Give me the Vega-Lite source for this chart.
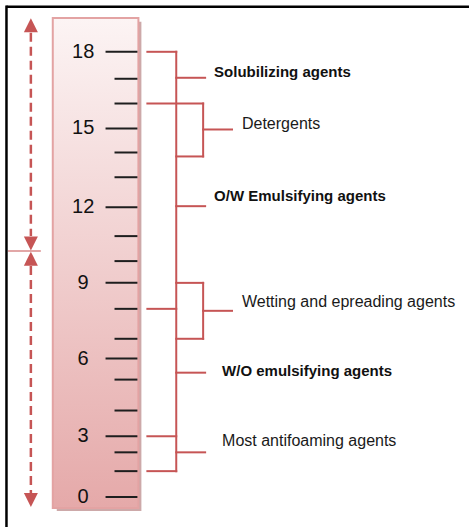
{
  "$schema": "https://vega.github.io/schema/vega-lite/v6.json",
  "width": 471,
  "height": 529,
  "autosize": {"type": "fit", "contains": "padding"},
  "padding": 0,
  "background": "white",
  "config": {"view": {"stroke": null}},
  "datasets": {
    "tube": [{"x": 53, "x2": 139, "hlb": 19.37, "hlb2": -0.443}],
    "shadow": [{"x": 57, "x2": 142, "hlb": 19.21, "hlb2": -0.564}],
    "border": [
      {"x": 6.5, "x2": 471, "hlb": 19.82, "hlb2": 19.82},
      {"x": 6.5, "x2": 6.5, "hlb": 19.87, "hlb2": -1.208}
    ],
    "ticks": [
      {"hlb": 18, "kind": "major", "label": "18"},
      {"hlb": 16.91, "kind": "minor", "label": ""},
      {"hlb": 15.91, "kind": "minor", "label": ""},
      {"hlb": 14.9, "kind": "major", "label": "15"},
      {"hlb": 13.93, "kind": "minor", "label": ""},
      {"hlb": 12.93, "kind": "minor", "label": ""},
      {"hlb": 11.72, "kind": "major", "label": "12"},
      {"hlb": 10.55, "kind": "minor", "label": ""},
      {"hlb": 9.54, "kind": "minor", "label": ""},
      {"hlb": 8.66, "kind": "major", "label": "9"},
      {"hlb": 7.61, "kind": "minor", "label": ""},
      {"hlb": 6.4, "kind": "minor", "label": ""},
      {"hlb": 5.6, "kind": "major", "label": "6"},
      {"hlb": 4.75, "kind": "minor", "label": ""},
      {"hlb": 3.5, "kind": "minor", "label": ""},
      {"hlb": 2.46, "kind": "major", "label": "3"},
      {"hlb": 1.81, "kind": "minor", "label": ""},
      {"hlb": 1.05, "kind": "minor", "label": ""},
      {"hlb": 0, "kind": "major", "label": "0"}
    ],
    "brackets": [
      {"x": 148, "x2": 177, "hlb": 18, "hlb2": 18},
      {"x": 177, "x2": 206, "hlb": 16.95, "hlb2": 16.95},
      {"x": 148, "x2": 204, "hlb": 15.91, "hlb2": 15.91},
      {"x": 177, "x2": 204, "hlb": 13.77, "hlb2": 13.77},
      {"x": 204, "x2": 233, "hlb": 14.86, "hlb2": 14.86},
      {"x": 177, "x2": 206, "hlb": 11.76, "hlb2": 11.76},
      {"x": 177, "x2": 204, "hlb": 8.66, "hlb2": 8.66},
      {"x": 148, "x2": 177, "hlb": 7.61, "hlb2": 7.61},
      {"x": 177, "x2": 204, "hlb": 6.4, "hlb2": 6.4},
      {"x": 204, "x2": 233, "hlb": 7.53, "hlb2": 7.53},
      {"x": 177, "x2": 206, "hlb": 5.03, "hlb2": 5.03},
      {"x": 148, "x2": 177, "hlb": 2.46, "hlb2": 2.46},
      {"x": 177, "x2": 206, "hlb": 1.81, "hlb2": 1.81},
      {"x": 148, "x2": 177, "hlb": 1.05, "hlb2": 1.05},
      {"x": 177, "x2": 177, "hlb": 18, "hlb2": 1.05},
      {"x": 204, "x2": 204, "hlb": 15.91, "hlb2": 13.77},
      {"x": 204, "x2": 204, "hlb": 8.66, "hlb2": 6.4}
    ],
    "dashes": [
      {"hlb": 18.77, "hlb2": 10.55},
      {"hlb": 9.34, "hlb2": 0.16}
    ],
    "separator": [{"x": 8, "x2": 41, "hlb": 9.95}],
    "heads": [
      {"hlb": 19.07, "dir": "up"},
      {"hlb": 10.25, "dir": "down"},
      {"hlb": 9.64, "dir": "up"},
      {"hlb": -0.12, "dir": "down"}
    ],
    "agents": [
      {"x": 215, "hlb": 17.19, "text": "Solubilizing agents", "bold": true},
      {"x": 243, "hlb": 15.1, "text": "Detergents", "bold": false},
      {"x": 215, "hlb": 12.16, "text": "O/W Emulsifying agents", "bold": true},
      {"x": 243, "hlb": 7.89, "text": "Wetting and epreading agents", "bold": false},
      {"x": 223, "hlb": 5.11, "text": "W/O emulsifying agents", "bold": true},
      {"x": 223, "hlb": 2.26, "text": "Most antifoaming agents", "bold": false}
    ]
  },
  "layer": [
    {
      "data": {"name": "shadow"},
      "mark": {"type": "rect", "fill": "#c49a9a", "opacity": 0.85},
      "encoding": {
        "x": {"field": "x", "type": "quantitative", "scale": {"domain": [0, 471], "nice": false, "zero": false}, "axis": null},
        "x2": {"field": "x2"},
        "y": {"field": "hlb", "type": "quantitative", "scale": {"domain": [-1.208, 20.094], "nice": false, "zero": false}, "axis": null},
        "y2": {"field": "hlb2"}
      }
    },
    {
      "data": {"name": "tube"},
      "mark": {
        "type": "rect",
        "fill": {"gradient": "linear", "x1": 0, "y1": 0, "x2": 0, "y2": 1, "stops": [{"offset": 0, "color": "#fcf4f4"}, {"offset": 1, "color": "#e5a9a9"}]},
        "stroke": "#e3a3a3",
        "strokeWidth": 2
      },
      "encoding": {
        "x": {"field": "x", "type": "quantitative", "scale": {"domain": [0, 471], "nice": false, "zero": false}, "axis": null},
        "x2": {"field": "x2"},
        "y": {"field": "hlb", "type": "quantitative", "scale": {"domain": [-1.208, 20.094], "nice": false, "zero": false}, "axis": null},
        "y2": {"field": "hlb2"}
      }
    },
    {
      "data": {"name": "border"},
      "mark": {"type": "rule", "stroke": "#000000", "strokeWidth": 2.5},
      "encoding": {
        "x": {"field": "x", "type": "quantitative", "scale": {"domain": [0, 471], "nice": false, "zero": false}, "axis": null},
        "x2": {"field": "x2"},
        "y": {"field": "hlb", "type": "quantitative", "scale": {"domain": [-1.208, 20.094], "nice": false, "zero": false}, "axis": null},
        "y2": {"field": "hlb2"}
      }
    },
    {
      "data": {"name": "ticks"},
      "transform": [{"filter": "datum.kind === 'major'"}],
      "mark": {"type": "rule", "stroke": "#1e1e1e", "strokeWidth": 2},
      "encoding": {
        "x": {"datum": 106, "type": "quantitative", "scale": {"domain": [0, 471], "nice": false, "zero": false}, "axis": null},
        "x2": {"datum": 138},
        "y": {"field": "hlb", "type": "quantitative", "scale": {"domain": [-1.208, 20.094], "nice": false, "zero": false}, "axis": null}
      }
    },
    {
      "data": {"name": "ticks"},
      "transform": [{"filter": "datum.kind === 'minor'"}],
      "mark": {"type": "rule", "stroke": "#1e1e1e", "strokeWidth": 2},
      "encoding": {
        "x": {"datum": 115, "type": "quantitative", "scale": {"domain": [0, 471], "nice": false, "zero": false}, "axis": null},
        "x2": {"datum": 138},
        "y": {"field": "hlb", "type": "quantitative", "scale": {"domain": [-1.208, 20.094], "nice": false, "zero": false}, "axis": null}
      }
    },
    {
      "data": {"name": "ticks"},
      "transform": [{"filter": "datum.kind === 'major'"}],
      "mark": {"type": "text", "font": "Liberation Sans", "fontSize": 20, "align": "center", "baseline": "middle", "color": "#111111"},
      "encoding": {
        "x": {"datum": 83.5, "type": "quantitative", "scale": {"domain": [0, 471], "nice": false, "zero": false}, "axis": null},
        "y": {"field": "hlb", "type": "quantitative", "scale": {"domain": [-1.208, 20.094], "nice": false, "zero": false}, "axis": null},
        "text": {"field": "label"}
      }
    },
    {
      "data": {"name": "brackets"},
      "mark": {"type": "rule", "stroke": "#c65555", "strokeWidth": 2, "strokeCap": "square"},
      "encoding": {
        "x": {"field": "x", "type": "quantitative", "scale": {"domain": [0, 471], "nice": false, "zero": false}, "axis": null},
        "x2": {"field": "x2"},
        "y": {"field": "hlb", "type": "quantitative", "scale": {"domain": [-1.208, 20.094], "nice": false, "zero": false}, "axis": null},
        "y2": {"field": "hlb2"}
      }
    },
    {
      "data": {"name": "dashes"},
      "mark": {"type": "rule", "stroke": "#c65555", "strokeWidth": 2.5, "strokeDash": [9, 5]},
      "encoding": {
        "x": {"datum": 31, "type": "quantitative", "scale": {"domain": [0, 471], "nice": false, "zero": false}, "axis": null},
        "y": {"field": "hlb", "type": "quantitative", "scale": {"domain": [-1.208, 20.094], "nice": false, "zero": false}, "axis": null},
        "y2": {"field": "hlb2"}
      }
    },
    {
      "data": {"name": "separator"},
      "mark": {"type": "rule", "stroke": "#d88a8a", "strokeWidth": 1.5},
      "encoding": {
        "x": {"field": "x", "type": "quantitative", "scale": {"domain": [0, 471], "nice": false, "zero": false}, "axis": null},
        "x2": {"field": "x2"},
        "y": {"field": "hlb", "type": "quantitative", "scale": {"domain": [-1.208, 20.094], "nice": false, "zero": false}, "axis": null}
      }
    },
    {
      "data": {"name": "heads"},
      "transform": [{"filter": "datum.dir === 'up'"}],
      "mark": {"type": "point", "shape": "M-1,1L1,1L0,-1Z", "filled": true, "fill": "#c65555", "opacity": 1, "size": 196, "strokeWidth": 0},
      "encoding": {
        "x": {"datum": 31, "type": "quantitative", "scale": {"domain": [0, 471], "nice": false, "zero": false}, "axis": null},
        "y": {"field": "hlb", "type": "quantitative", "scale": {"domain": [-1.208, 20.094], "nice": false, "zero": false}, "axis": null}
      }
    },
    {
      "data": {"name": "heads"},
      "transform": [{"filter": "datum.dir === 'down'"}],
      "mark": {"type": "point", "shape": "M-1,-1L1,-1L0,1Z", "filled": true, "fill": "#c65555", "opacity": 1, "size": 196, "strokeWidth": 0},
      "encoding": {
        "x": {"datum": 31, "type": "quantitative", "scale": {"domain": [0, 471], "nice": false, "zero": false}, "axis": null},
        "y": {"field": "hlb", "type": "quantitative", "scale": {"domain": [-1.208, 20.094], "nice": false, "zero": false}, "axis": null}
      }
    },
    {
      "data": {"name": "agents"},
      "transform": [{"filter": "datum.bold"}],
      "mark": {"type": "text", "font": "Liberation Sans", "fontSize": 15, "fontWeight": "bold", "align": "left", "baseline": "middle", "color": "#111111"},
      "encoding": {
        "x": {"field": "x", "type": "quantitative", "scale": {"domain": [0, 471], "nice": false, "zero": false}, "axis": null},
        "y": {"field": "hlb", "type": "quantitative", "scale": {"domain": [-1.208, 20.094], "nice": false, "zero": false}, "axis": null},
        "text": {"field": "text"}
      }
    },
    {
      "data": {"name": "agents"},
      "transform": [{"filter": "!datum.bold"}],
      "mark": {"type": "text", "font": "Liberation Sans", "fontSize": 16, "align": "left", "baseline": "middle", "color": "#1a1a1a"},
      "encoding": {
        "x": {"field": "x", "type": "quantitative", "scale": {"domain": [0, 471], "nice": false, "zero": false}, "axis": null},
        "y": {"field": "hlb", "type": "quantitative", "scale": {"domain": [-1.208, 20.094], "nice": false, "zero": false}, "axis": null},
        "text": {"field": "text"}
      }
    }
  ]
}
